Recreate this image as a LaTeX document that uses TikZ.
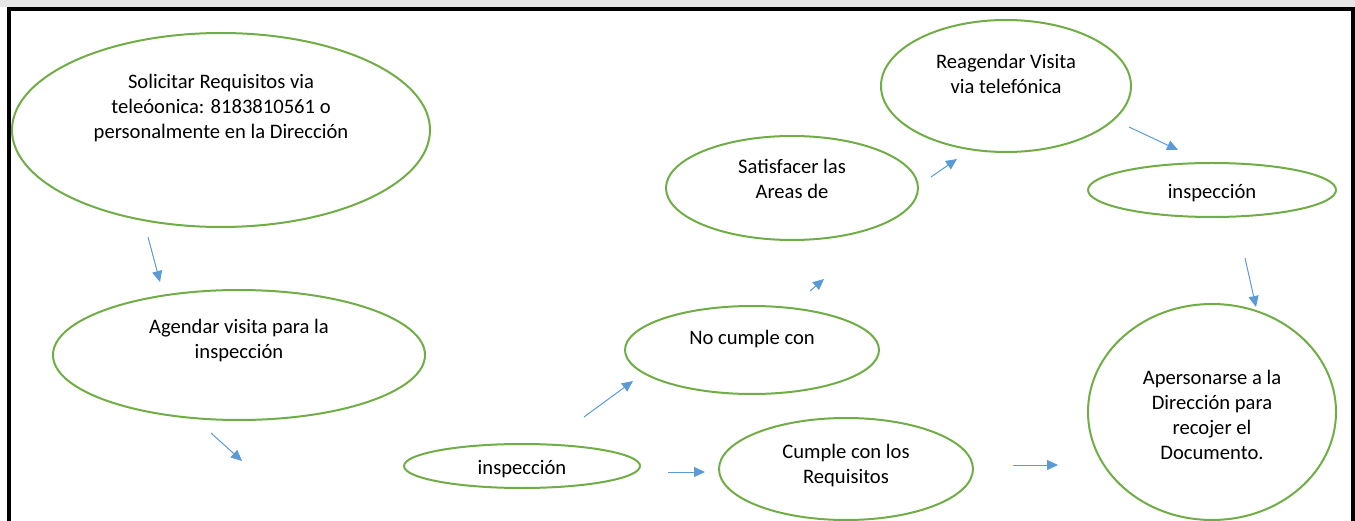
\documentclass[tikz,border=0pt]{standalone}
\usepackage{fontspec}
\setmainfont{Carlito}
\usetikzlibrary{arrows.meta, shapes.geometric}
\definecolor{bubblegreen}{HTML}{70AD47}
\definecolor{arrowblue}{HTML}{5B9BD5}
\definecolor{bandgray}{HTML}{E7E6E6}

\begin{document}
\begin{tikzpicture}[x=1pt,y=-1pt]
  \tikzstyle{every node}=[font=\fontsize{20.6}{25}\selectfont]
  \tikzstyle{bubble}=[ellipse, draw=bubblegreen, line width=2pt, inner sep=0pt]
  \tikzstyle{txt}=[align=center, inner sep=0pt]
  \tikzstyle{flow}=[draw=arrowblue, line width=1pt, -{Triangle[length=11pt,width=10pt]}]

  \useasboundingbox (0,0) rectangle (1355,521);

  % page frame
  \fill[bandgray] (0,0) rectangle (1355,7);
  \draw[line width=4pt] (9,523) -- (9,9) -- (1353,9) -- (1353,523);

  % bubbles
  \node[bubble, minimum width=418pt, minimum height=194pt,
    label={[txt, yshift=22pt]center:{Solicitar Requisitos via\\teleóonica: 8183810561 o\\personalmente en la Dirección}}]
    (solicitar) at (221,130) {};
  \node[bubble, minimum width=372pt, minimum height=130pt,
    label={[txt, yshift=14pt]center:{Agendar visita para la\\inspección}}]
    (agendar) at (239,355) {};
  \node[bubble, minimum width=236pt, minimum height=44pt,
    label={[txt, yshift=-3pt]center:{inspección}}]
    (inspA) at (522,466) {};
  \node[bubble, minimum width=254pt, minimum height=88pt,
    label={[txt, yshift=11pt]center:{No cumple con}}]
    (nocumple) at (752,350) {};
  \node[bubble, minimum width=254pt, minimum height=102pt,
    label={[txt, yshift=3pt]center:{Cumple con los\\Requisitos}}]
    (cumple) at (846,469) {};
  \node[bubble, minimum width=252pt, minimum height=104pt,
    label={[txt, yshift=9pt]center:{Satisfacer las\\Areas de}}]
    (satisfacer) at (792,188) {};
  \node[bubble, minimum width=250pt, minimum height=132pt,
    label={[txt, yshift=12pt]center:{Reagendar Visita\\via telefónica}}]
    (reagendar) at (1006,86) {};
  \node[bubble, minimum width=248pt, minimum height=54pt,
    label={[txt, yshift=-3pt]center:{inspección}}]
    (inspB) at (1212,190) {};
  \node[bubble, minimum width=248pt, minimum height=216pt,
    label={[txt, yshift=-3pt]center:{Apersonarse a la\\Dirección para\\recojer el\\Documento.}}]
    (apersonarse) at (1212,412) {};

  % arrow ends (arrows float between bubbles)
  \coordinate (solicitar-out) at (148,237);   \coordinate (agendar-in) at (160,282);
  \coordinate (agendar-out) at (211,433);     \coordinate (inspA-in) at (242,461);
  \coordinate (inspA-up) at (584,417);        \coordinate (nocumple-in) at (633,381);
  \coordinate (nocumple-out) at (810,291);    \coordinate (satisfacer-in) at (824,279);
  \coordinate (satisfacer-out) at (931,177);  \coordinate (reagendar-in) at (957,159);
  \coordinate (reagendar-out) at (1129,127);  \coordinate (inspB-in) at (1178,150);
  \coordinate (inspB-out) at (1245,258);      \coordinate (apersonarse-in) at (1256,307);
  \coordinate (inspA-out) at (668,472);       \coordinate (cumple-in) at (705,472);
  \coordinate (cumple-out) at (1013,465);     \coordinate (apersonarse-left) at (1058,465);

  \foreach \a/\b in {solicitar-out/agendar-in, agendar-out/inspA-in,
      inspA-up/nocumple-in, nocumple-out/satisfacer-in,
      satisfacer-out/reagendar-in, reagendar-out/inspB-in,
      inspB-out/apersonarse-in, inspA-out/cumple-in,
      cumple-out/apersonarse-left}
    \draw[flow] (\a) -- (\b);
\end{tikzpicture}
\end{document}
